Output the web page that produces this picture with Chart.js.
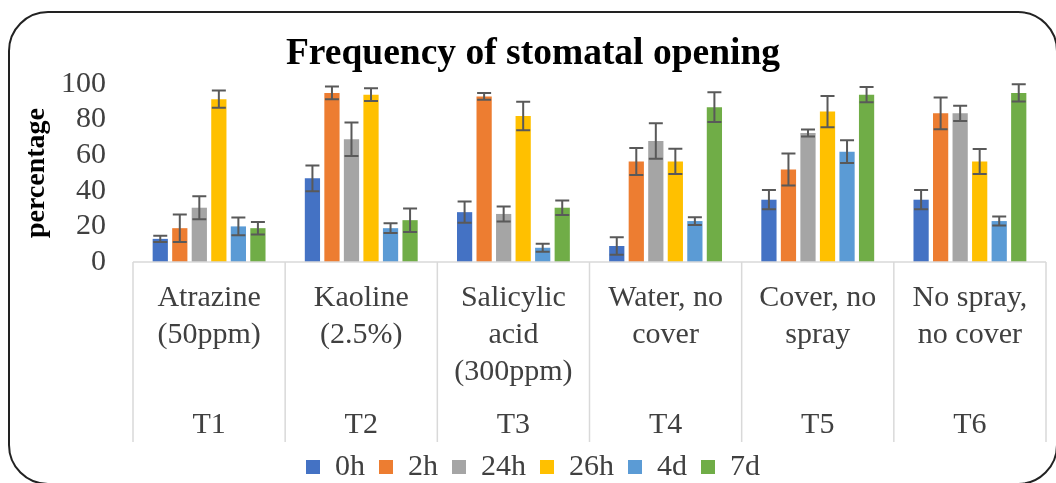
<!DOCTYPE html>
<html>
<head>
<meta charset="utf-8">
<script src="https://cdn.jsdelivr.net/npm/chart.js@4.4.1/dist/chart.umd.min.js"></script>
<style>
    html, body { margin: 0; padding: 0; background: #fff; overflow: hidden; }
    #wrap { position: relative; width: 1056px; height: 483px; }
    #frame {
        position: absolute; left: 8px; top: 11px; width: 1050px; height: 474px;
        box-sizing: border-box; border: 2.5px solid #222; border-radius: 40px;
        pointer-events: none;
    }
</style>
</head>
<body>
<div id="wrap">
    <canvas id="stomataChart"></canvas>
    <div id="frame"></div>
</div>
<script>
// Treatments (two label rows under the x axis)
const treatmentNames = [
    ['Atrazine', '(50ppm)'],
    ['Kaoline', '(2.5%)'],
    ['Salicylic', 'acid', '(300ppm)'],
    ['Water, no', 'cover'],
    ['Cover, no', 'spray'],
    ['No spray,', 'no cover']
];
const treatmentCodes = ['T1', 'T2', 'T3', 'T4', 'T5', 'T6'];
const yTicks = [0, 20, 40, 60, 80, 100];

// Series (time after treatment), values in percent
const seriesNames = ['0h', '2h', '24h', '26h', '4d', '7d'];
const seriesColors = ['#4472C4', '#ED7D31', '#A5A5A5', '#FFC000', '#5B9BD5', '#70AD47'];

const values0h  = [13, 47, 28, 9, 35, 35];
const values2h  = [19, 95, 93, 56.5, 52, 83.5];
const values24h = [30.5, 69, 27, 68, 72.5, 83.5];
const values26h = [91.5, 94, 82, 56.5, 84.5, 56.5];
const values4d  = [20, 19, 8, 23, 62, 23];
const values7d  = [19, 23.5, 30.5, 87, 94, 95];

// error bar half lengths
const err0h  = [1.7, 7.2, 6, 4.9, 5.4, 5.4];
const err2h  = [7.7, 3.6, 1.9, 7.6, 9, 8.9];
const err24h = [6.5, 9.4, 4.2, 10, 2, 4.3];
const err26h = [4.8, 3.6, 8, 7.1, 8.8, 7];
const err4d  = [5, 2.7, 2.2, 2.2, 6.4, 2.5];
const err7d  = [3.5, 6.6, 4.1, 8.4, 4.3, 4.9];

const allValues = [values0h, values2h, values24h, values26h, values4d, values7d];
const allErrors = [err0h, err2h, err24h, err26h, err4d, err7d];

const serif = "'Liberation Serif', 'Times New Roman', serif";
const textColor = '#404040';

// error bars drawn from the y scale
const errorBars = {
    id: 'errorBars',
    afterDatasetsDraw(chart) {
        const ctx = chart.ctx;
        const y = chart.scales.y;
        ctx.save();
        ctx.strokeStyle = '#595959';
        ctx.lineWidth = 2;
        chart.data.datasets.forEach((ds, i) => {
            const meta = chart.getDatasetMeta(i);
            meta.data.forEach((bar, j) => {
                const v = ds.data[j];
                const e = ds.errors[j];
                const top = y.getPixelForValue(v + e);
                const bot = y.getPixelForValue(v - e);
                const half = 7;
                ctx.beginPath();
                ctx.moveTo(bar.x, top); ctx.lineTo(bar.x, bot);
                ctx.moveTo(bar.x - half, top); ctx.lineTo(bar.x + half, top);
                ctx.moveTo(bar.x - half, bot); ctx.lineTo(bar.x + half, bot);
                ctx.stroke();
            });
        });
        ctx.restore();
    }
};

// axis line and the category divider lines below it
const dividers = {
    id: 'dividers',
    afterDraw(chart) {
        const ctx = chart.ctx;
        const x = chart.scales.x;
        const area = chart.chartArea;
        const bottom = chart.scales.x2.bottom + 4;
        ctx.save();
        ctx.strokeStyle = '#d9d9d9';
        ctx.lineWidth = 1.5;
        ctx.beginPath();
        ctx.moveTo(area.left, area.bottom); ctx.lineTo(area.right, area.bottom);
        for (let i = 0; i <= treatmentCodes.length; i++) {
            const px = x.getPixelForValue(i - 0.5);
            ctx.moveTo(px, area.bottom); ctx.lineTo(px, bottom);
        }
        ctx.stroke();
        ctx.restore();
    }
};

const ctx = document.getElementById('stomataChart').getContext('2d');
new Chart(ctx, {
    type: 'bar',
    data: {
        labels: treatmentNames,
        datasets: seriesNames.map((name, i) => ({
            label: name,
            data: allValues[i],
            errors: allErrors[i],
            backgroundColor: seriesColors[i],
            borderWidth: 0,
            barPercentage: 0.78,
            categoryPercentage: 0.77
        }))
    },
    options: {
        responsive: true,
        maintainAspectRatio: false,
        animation: false,
        layout: { padding: { left: 20, right: 10, top: 0, bottom: -9 } },
        plugins: {
            title: {
                display: true,
                text: 'Frequency of stomatal opening',
                color: '#000',
                font: { family: serif, size: 37.5, weight: 'bold' },
                padding: { top: 32, bottom: 7 }
            },
            legend: {
                position: 'bottom',
                labels: {
                    boxWidth: 14,
                    boxHeight: 14,
                    padding: 14,
                    color: textColor,
                    font: { family: serif, size: 30 }
                }
            },
            tooltip: { enabled: false }
        },
        scales: {
            x: {
                offset: true,
                grid: { display: false, drawTicks: false },
                border: { display: false },
                ticks: {
                    color: textColor,
                    font: { family: serif, size: 30, lineHeight: 1.2333 },
                    padding: 17.5,
                    maxRotation: 0,
                    autoSkip: false
                },
                afterFit: (scale) => { scale.height = 128.5; }
            },
            x2: {
                type: 'category',
                labels: treatmentCodes,
                position: 'bottom',
                offset: true,
                grid: { display: false, drawTicks: false },
                border: { display: false },
                ticks: {
                    color: textColor,
                    font: { family: serif, size: 30, lineHeight: 1.2333 },
                    padding: 16,
                    maxRotation: 0,
                    autoSkip: false
                },
                afterFit: (scale) => { scale.height = 47.5; }
            },
            y: {
                min: 0,
                max: 100,
                grid: { display: false, drawTicks: false },
                border: { display: false },
                afterBuildTicks: (scale) => { scale.ticks = yTicks.map(v => ({ value: v })); },
                ticks: {
                    color: textColor,
                    font: { family: serif, size: 30 },
                    padding: 27,
                    autoSkip: false
                },
                title: {
                    display: true,
                    text: 'percentage',
                    color: '#000',
                    font: { family: serif, size: 28, weight: 'bold' },
                    padding: { top: 0, bottom: 0 }
                },
                afterFit: (scale) => { scale.width = 113; }
            }
        }
    },
    plugins: [errorBars, dividers]
});
</script>
</body>
</html>
